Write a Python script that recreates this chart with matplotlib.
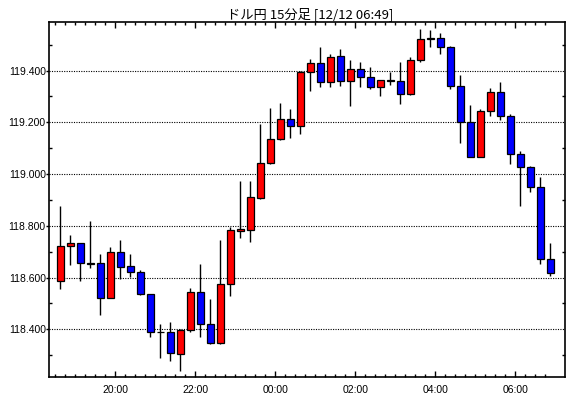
import matplotlib
matplotlib.use("Agg")
import matplotlib.pyplot as plt
import matplotlib.dates as mdates
from matplotlib.ticker import MultipleLocator, FormatStrFormatter
import numpy as np
import pandas as pd

# 15分足 ドル円 (12/11 18:30 - 12/12 06:45)
start_time = "2015-12-11 18:30"
n_bars = 50

opens = [118.586, 118.721, 118.732, 118.655, 118.655, 118.522, 118.698, 118.645, 118.620, 118.535,
         118.390, 118.388, 118.303, 118.396, 118.543, 118.422, 118.346, 118.574, 118.781, 118.785,
         118.909, 119.042, 119.134, 119.212, 119.185, 119.393, 119.428, 119.355, 119.455, 119.358,
         119.407, 119.374, 119.335, 119.360, 119.358, 119.308, 119.440, 119.521, 119.525, 119.490,
         119.339, 119.200, 119.067, 119.243, 119.316, 119.223, 119.076, 119.026, 118.949, 118.671]
highs = [118.877, 118.764, 118.735, 118.819, 118.691, 118.718, 118.744, 118.691, 118.629, 118.538,
         118.420, 118.428, 118.402, 118.560, 118.652, 118.517, 118.745, 118.794, 118.973, 118.973,
         119.193, 119.255, 119.276, 119.253, 119.397, 119.445, 119.491, 119.464, 119.483, 119.441,
         119.432, 119.414, 119.364, 119.393, 119.432, 119.452, 119.561, 119.557, 119.544, 119.496,
         119.383, 119.267, 119.252, 119.333, 119.356, 119.231, 119.088, 119.031, 118.989, 118.734]
lows = [118.557, 118.650, 118.588, 118.638, 118.456, 118.520, 118.596, 118.601, 118.531, 118.371,
        118.290, 118.279, 118.240, 118.391, 118.371, 118.344, 118.344, 118.530, 118.754, 118.739,
        118.905, 119.040, 119.130, 119.140, 119.154, 119.322, 119.338, 119.338, 119.341, 119.264,
        119.338, 119.328, 119.303, 119.343, 119.272, 119.305, 119.432, 119.491, 119.463, 119.328,
        119.121, 119.065, 119.065, 119.226, 119.210, 119.040, 118.878, 118.932, 118.654, 118.607]
closes = [118.721, 118.732, 118.655, 118.652, 118.522, 118.698, 118.642, 118.620, 118.535, 118.391,
          118.389, 118.307, 118.396, 118.543, 118.422, 118.346, 118.574, 118.783, 118.787, 118.910,
          119.042, 119.136, 119.212, 119.185, 119.393, 119.428, 119.355, 119.451, 119.358, 119.407,
          119.374, 119.335, 119.362, 119.362, 119.308, 119.440, 119.521, 119.524, 119.490, 119.339,
          119.200, 119.067, 119.243, 119.316, 119.223, 119.076, 119.026, 118.949, 118.671, 118.616]

title = "ドル円 15分足 [12/12 06:49]"

times = pd.date_range(start=start_time, periods=n_bars, freq="15min")
bar_days = 15 / (24 * 60)
x_start = mdates.date2num(times.to_pydatetime())
x_mid = x_start + bar_days / 2

o = np.array(opens)
c = np.array(closes)
colors = np.where(c >= o, "#ff0000", "#0000ff")

fig = plt.figure(figsize=(5.7, 3.98), dpi=100)
ax = fig.add_axes([49.3 / 570, 21 / 398, (565.3 - 49.3) / 570, (377 - 22.3) / 398])

ax.vlines(x_mid, lows, highs, color="black", linewidth=1.0, zorder=2)
ax.bar(x_mid, np.abs(c - o), width=bar_days * 0.66, bottom=np.minimum(o, c),
       color=colors, edgecolor="black", linewidth=0.9, zorder=3)

ax.set_xlim(x_start[0] - 0.6 * bar_days, x_start[-1] + 2.0 * bar_days)
ax.set_ylim(118.2157, 119.5865)

# x axis: 2時間ごとの目盛り, 15分ごとの補助目盛り
ax.xaxis.set_major_locator(mdates.HourLocator(byhour=range(0, 24, 2)))
ax.xaxis.set_major_formatter(mdates.DateFormatter("%H:%M"))
ax.set_xticks(x_start, minor=True)

ax.yaxis.set_major_locator(MultipleLocator(0.2))
ax.yaxis.set_minor_locator(MultipleLocator(0.1))
ax.yaxis.set_major_formatter(FormatStrFormatter("%.3f"))

ax.grid(axis="y", which="major", color="black", linestyle=(0, (1, 1.2)), linewidth=0.8)

ax.tick_params(axis="x", which="major", direction="in", length=4.5, width=1, top=True,
               labelsize=7.5, pad=6, colors="black")
ax.tick_params(axis="x", which="minor", direction="in", length=2.4, width=1, top=True)
ax.tick_params(axis="y", which="major", direction="out", length=2, width=1, right=False,
               labelsize=7.5, pad=0.5)
ax.tick_params(axis="y", which="minor", direction="in", length=2.5, width=1, right=True)

for lbl in ax.get_xticklabels() + ax.get_yticklabels():
    lbl.set_family(["Liberation Sans", "DejaVu Sans"])

for sp in ax.spines.values():
    sp.set_linewidth(1.2)
    sp.set_color("black")

fig.text(310 / 570, 1 - 14 / 398, title, ha="center", va="center", fontsize=9.5,
         family=["Noto Sans CJK JP", "DejaVu Sans"])

fig.savefig("out.png", dpi=100)
